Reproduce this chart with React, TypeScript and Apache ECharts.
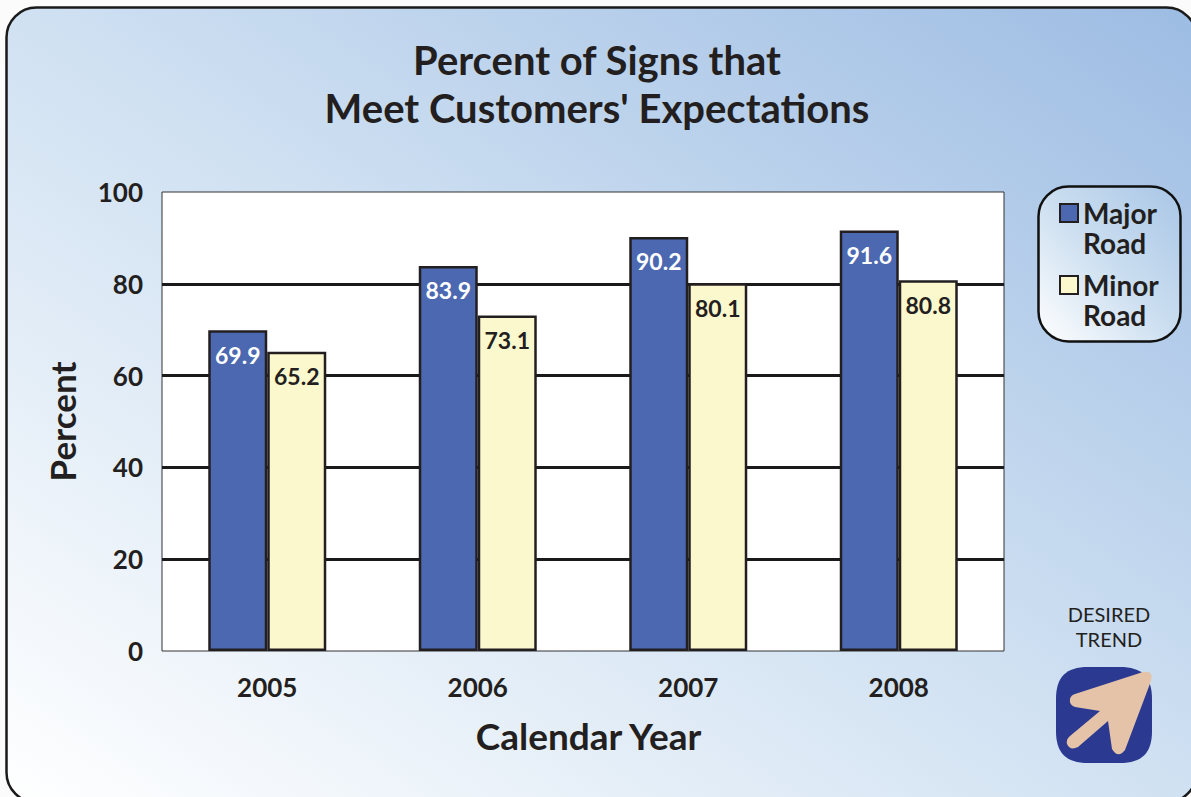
import React, { useEffect, useRef } from "react";
import * as echarts from "echarts";

const categories = ["2005", "2006", "2007", "2008"];
const majorRoad = [69.9, 83.9, 90.2, 91.6];
const minorRoad = [65.2, 73.1, 80.1, 80.8];
const titleLines = "Percent of Signs that\nMeet Customers' Expectations";
const FONT = "Lato";
const INK = "#231f20";

const ICON_BOX =
  "M1088 667 L1120 667 C1142 667 1152 677 1152 699 L1152 731 C1152 753 1142 763 1120 763 L1088 763 C1066 763 1056 753 1056 731 L1056 699 C1056 677 1066 667 1088 667 Z";
const ICON_ARROW =
  "M1075 694 L1143 672 Q1154 670 1151 681 L1125 750 Q1118 759 1112 749 L1108 721 L1078 747 Q1070 751 1067 744 Q1066 739 1070 736 L1100 711 L1075 707 Q1069 705 1070 699 Q1071 695 1075 694 Z";

echarts.graphic.registerShape("iconBox", echarts.graphic.extendPath(ICON_BOX, {}) as any);
echarts.graphic.registerShape("iconArrow", echarts.graphic.extendPath(ICON_ARROW, {}) as any);

const grad = (stops: [number, string][]) =>
  new echarts.graphic.LinearGradient(
    0,
    1,
    1,
    0,
    stops.map(([offset, color]) => ({ offset, color }))
  );

export default function App() {
  const ref = useRef<HTMLDivElement>(null);
  useEffect(() => {
    document.body.style.margin = "0";
    const chart = echarts.init(ref.current!, undefined, { renderer: "svg" });
    const barLabel = (color: string) => ({
      show: true,
      position: "insideTop" as const,
      distance: 13,
      color,
      fontFamily: FONT,
      fontWeight: 700,
      fontSize: 23,
      formatter: (p: any) => p.value.toFixed(1),
    });
    chart.setOption({
      animation: false,
      backgroundColor: "#fbfbfb",
      title: {
        text: titleLines,
        left: 592,
        top: 31,
        textAlign: "center",
        textStyle: { fontFamily: FONT, fontWeight: 700, fontSize: 40, lineHeight: 48, color: INK },
      },
      grid: {
        left: 162,
        top: 192,
        width: 842,
        height: 459,
        show: true,
        backgroundColor: "#ffffff",
        borderColor: "#333333",
        borderWidth: 1,
      },
      legend: {
        orient: "vertical",
        left: 1059,
        top: 168,
        padding: 0,
        icon: "rect",
        itemWidth: 18,
        itemHeight: 18,
        itemGap: -18,
        selectedMode: false,
        data: ["Major Road", "Minor Road"],
        formatter: (n: string) => " \n" + n.replace(" ", "\n"),
        textStyle: {
          fontFamily: FONT,
          fontWeight: 700,
          fontSize: 28,
          lineHeight: 30,
          color: INK,
        },
      },
      xAxis: {
        type: "category",
        data: categories,
        name: "Calendar Year",
        nameLocation: "middle",
        nameGap: 66,
        nameTextStyle: { fontFamily: FONT, fontWeight: 700, fontSize: 37, color: INK, padding: [0, 0, 0, 11] },
        axisTick: { show: false },
        axisLine: { show: false },
        axisLabel: { fontFamily: FONT, fontWeight: 700, fontSize: 26, color: INK, margin: 23 },
      },
      yAxis: {
        type: "value",
        min: 0,
        max: 100,
        interval: 20,
        name: "Percent",
        nameLocation: "middle",
        nameGap: 83,
        nameTextStyle: { fontFamily: FONT, fontWeight: 700, fontSize: 35, color: INK },
        axisTick: { show: false },
        axisLine: { show: false },
        axisLabel: { fontFamily: FONT, fontWeight: 700, fontSize: 26, color: INK, margin: 19 },
        splitLine: { showMinLine: false, showMaxLine: false, lineStyle: { color: "#1a1a1a", width: 3 } },
      },
      series: [
        {
          name: "Major Road",
          type: "bar",
          data: majorRoad,
          barWidth: 59,
          barGap: "0%",
          itemStyle: { color: "#4b68b0", borderColor: "#231f20", borderWidth: 2.5 },
          label: barLabel("#ffffff"),
        },
        {
          name: "Minor Road",
          type: "bar",
          data: minorRoad,
          barWidth: 59,
          barGap: "0%",
          itemStyle: { color: "#fcf8cd", borderColor: "#231f20", borderWidth: 2.5 },
          label: barLabel(INK),
        },
      ],
      graphic: [
        {
          type: "rect",
          z: -10,
          shape: { x: 6.5, y: 7.5, width: 1190, height: 795, r: 30 },
          style: {
            fill: grad([
              [0, "#ffffff"],
              [0.5, "#d0e1f2"],
              [1, "#9dbce3"],
            ]),
            stroke: "#1a1a1a",
            lineWidth: 2.5,
          },
        },
        {
          type: "rect",
          z: -9,
          shape: { x: 1038.5, y: 186.5, width: 142, height: 155, r: 30 },
          style: {
            fill: grad([
              [0, "#ffffff"],
              [0.5, "#cbdef0"],
              [1, "#a9c6e6"],
            ]),
            stroke: "#111111",
            lineWidth: 2.5,
          },
        },
        {
          type: "text",
          style: {
            text: "DESIRED\nTREND",
            x: 1109,
            y: 601,
            align: "center",
            fontFamily: FONT,
            fontSize: 20,
            lineHeight: 25,
            fill: INK,
          },
        },
        { type: "iconBox", style: { fill: "#2b3990" } },
        { type: "iconArrow", style: { fill: "#e4c3a8" } },
      ],
    });
    return () => chart.dispose();
  }, []);
  return <div ref={ref} style={{ width: 1191, height: 797 }} />;
}
